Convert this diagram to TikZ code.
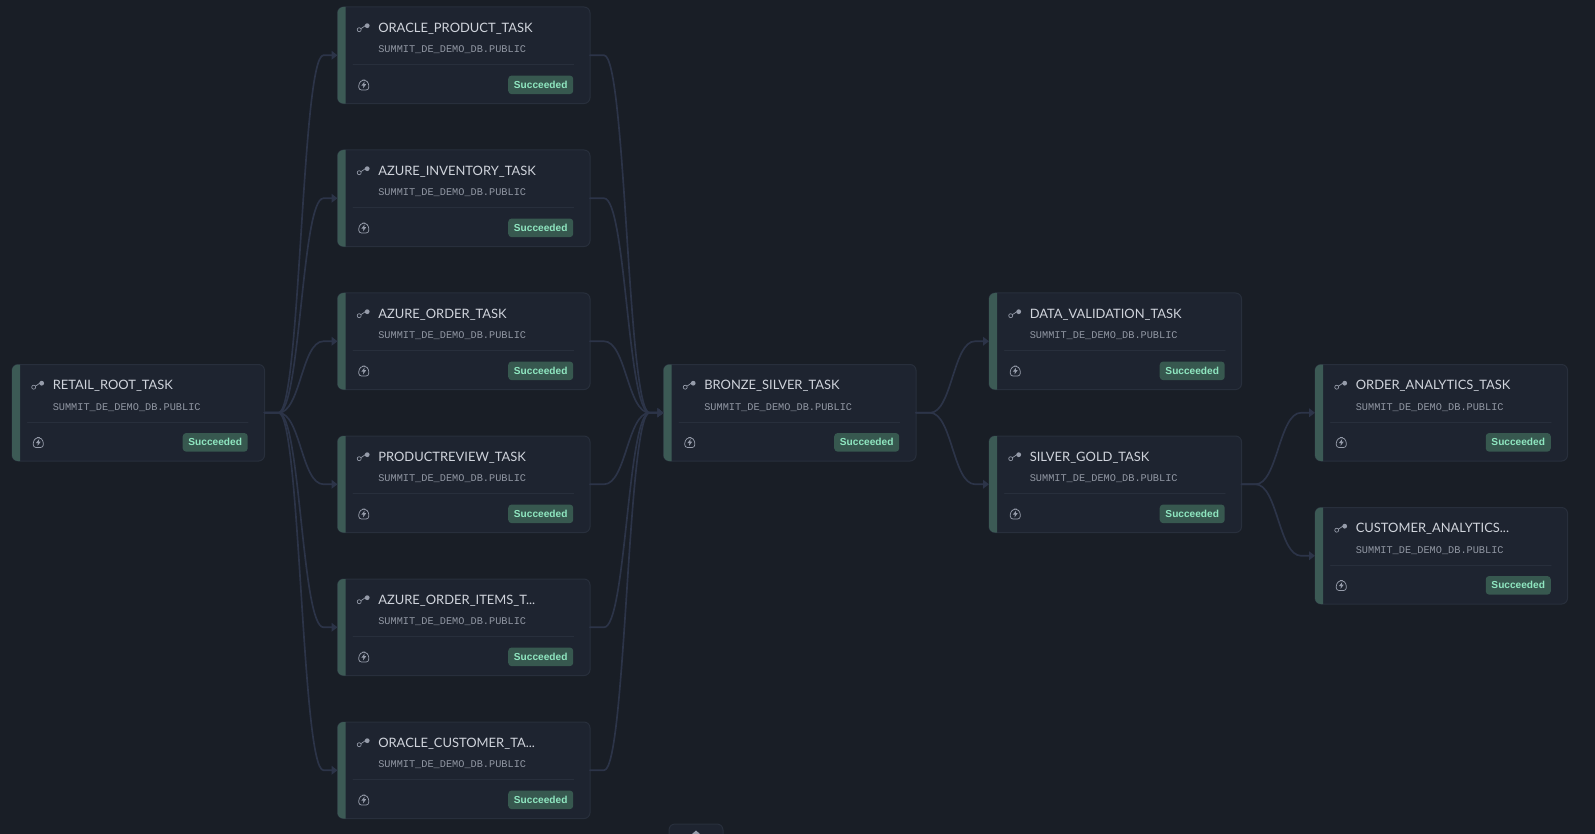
\documentclass[tikz,border=0pt]{standalone}
\usepackage{fontspec}
\setmainfont{Lato}
\setmonofont{Liberation Mono}
\newfontfamily\badgefont{Liberation Sans}
\definecolor{pageBg}{RGB}{25,30,38}
\definecolor{cardFill}{RGB}{30,36,48}
\definecolor{cardBorder}{RGB}{40,47,60}
\definecolor{cardAccent}{RGB}{60,90,85}
\definecolor{edgeLine}{RGB}{44,52,72}
\definecolor{badgeFill}{RGB}{55,88,79}
\definecolor{badgeText}{RGB}{143,230,192}
\definecolor{titleText}{RGB}{208,212,220}
\definecolor{subText}{RGB}{145,151,163}
\definecolor{iconLine}{RGB}{150,156,170}
\usetikzlibrary{arrows.meta}
\def\pxsz{0.75pt}
\tikzset{
  taskcard/.style={draw=cardBorder, fill=cardFill, line width=0.75pt, rounded corners=4.5pt, minimum width=189.4pt, minimum height=72.4pt, inner sep=0pt, outer sep=0pt, anchor=north west},
  tasktitle/.style={anchor=west, inner sep=0pt, text=titleText, font=\fontsize{9.7}{12}\selectfont},
  taskschema/.style={anchor=west, inner sep=0pt, text=subText, font=\ttfamily\fontsize{7.7}{10}\selectfont},
  taskbadge/.style={anchor=north east, fill=badgeFill, rounded corners=2.5pt, minimum width=48.75pt, minimum height=13.9pt, inner sep=0pt, text=badgeText, font=\badgefont\bfseries\fontsize{7.6}{10}\selectfont},
  taskedge/.style={draw=edgeLine, line width=1.25pt, -{Triangle[length=4.5pt,width=6.5pt]}},
  flowicon/.pic={
    \draw[iconLine, line width=0.5pt] (-6,2) circle (2);
    \fill[iconLine] (2,-2) circle (2.4);
    \draw[iconLine, line width=0.5pt] (-4.4,1) .. controls (-1,1) and (-3,-2) .. (0,-2);
  },
  bolticon/.pic={
    \draw[iconLine, line width=0.55pt, rounded corners=2pt] (-5,5) -- (-5,-2) -- (-1.5,-5) -- (1.5,-5) -- (5,-2) -- (5,5) -- cycle;
    \fill[iconLine] (0.8,-3.4) -- (-2.4,0.6) -- (-0.4,0.6) -- (-0.8,3.4) -- (2.4,-0.8) -- (0.4,-0.8) -- cycle;
  }
}
% One task card: name, left, top, title
\newcommand{\taskcard}[4]{
  \node[taskcard] (#1) at (#2,#3) {};
  \fill[cardAccent, rounded corners=4.5pt] ([xshift=6pt]#1.north west) -- (#1.north west) -- (#1.south west) -- ([xshift=6pt]#1.south west);
  \pic at ([shift={(27.7,20.7)}]#1.north west) {flowicon};
  \node[tasktitle] (#1Title) at ([shift={(40.5,21.7)}]#1.north west) {#4};
  \node[taskschema] (#1Schema) at ([shift={(40.5,42.7)}]#1.north west) {SUMMIT\_DE\_DEMO\_DB.PUBLIC};
  \draw[cardBorder, line width=0.75pt] ([shift={(15.5,57.5)}]#1.north west) -- ([shift={(236,57.5)}]#1.north west);
  \pic at ([shift={(26.3,78)}]#1.north west) {bolticon};
  \node[taskbadge] (#1Badge) at ([shift={(236,68.3)}]#1.north west) {Succeeded};
}
% Edge with short straight ends
\newcommand{\taskedgeline}[2]{
  \draw[taskedge] (#1.east) -- ++(14,0) .. controls +(22,0) and +(-22,0) .. ([shift={(-14,0)}]#2.west) -- (#2.west);
}
\begin{document}
\begin{tikzpicture}
\begin{scope}[x=\pxsz, y=-\pxsz, line cap=round, line join=round]
  % Page
  \fill[pageBg, use as bounding box] (0,0) rectangle (1595,834);
  % Root
  \taskcard{retailRoot}{12}{364.5}{RETAIL\_ROOT\_TASK}
  % Ingest column
  \taskcard{oracleProduct}{337.5}{7}{ORACLE\_PRODUCT\_TASK}
  \taskcard{azureInventory}{337.5}{150}{AZURE\_INVENTORY\_TASK}
  \taskcard{azureOrder}{337.5}{293}{AZURE\_ORDER\_TASK}
  \taskcard{productReview}{337.5}{436}{PRODUCTREVIEW\_TASK}
  \taskcard{azureOrderItems}{337.5}{579}{AZURE\_ORDER\_ITEMS\_T...}
  \taskcard{oracleCustomer}{337.5}{722}{ORACLE\_CUSTOMER\_TA...}
  % Transform columns
  \taskcard{bronzeSilver}{663.5}{364.5}{BRONZE\_SILVER\_TASK}
  \taskcard{dataValidation}{989}{293}{DATA\_VALIDATION\_TASK}
  \taskcard{silverGold}{989}{436}{SILVER\_GOLD\_TASK}
  \taskcard{orderAnalytics}{1315}{364.5}{ORDER\_ANALYTICS\_TASK}
  \taskcard{customerAnalytics}{1315}{507.5}{CUSTOMER\_ANALYTICS...}
  % Edges
  \taskedgeline{retailRoot}{oracleProduct}
  \taskedgeline{retailRoot}{azureInventory}
  \taskedgeline{retailRoot}{azureOrder}
  \taskedgeline{retailRoot}{productReview}
  \taskedgeline{retailRoot}{azureOrderItems}
  \taskedgeline{retailRoot}{oracleCustomer}
  \taskedgeline{oracleProduct}{bronzeSilver}
  \taskedgeline{azureInventory}{bronzeSilver}
  \taskedgeline{azureOrder}{bronzeSilver}
  \taskedgeline{productReview}{bronzeSilver}
  \taskedgeline{azureOrderItems}{bronzeSilver}
  \taskedgeline{oracleCustomer}{bronzeSilver}
  \taskedgeline{bronzeSilver}{dataValidation}
  \taskedgeline{bronzeSilver}{silverGold}
  \taskedgeline{silverGold}{orderAnalytics}
  \taskedgeline{silverGold}{customerAnalytics}
  % Tab cut off by the bottom edge
  \node[taskcard, minimum width=40.5pt, minimum height=22pt] (bottomTab) at (669,824) {};
  \fill[iconLine] (696,830.5) -- (700,834) -- (692,834) -- cycle;
\end{scope}
\end{tikzpicture}
\end{document}
